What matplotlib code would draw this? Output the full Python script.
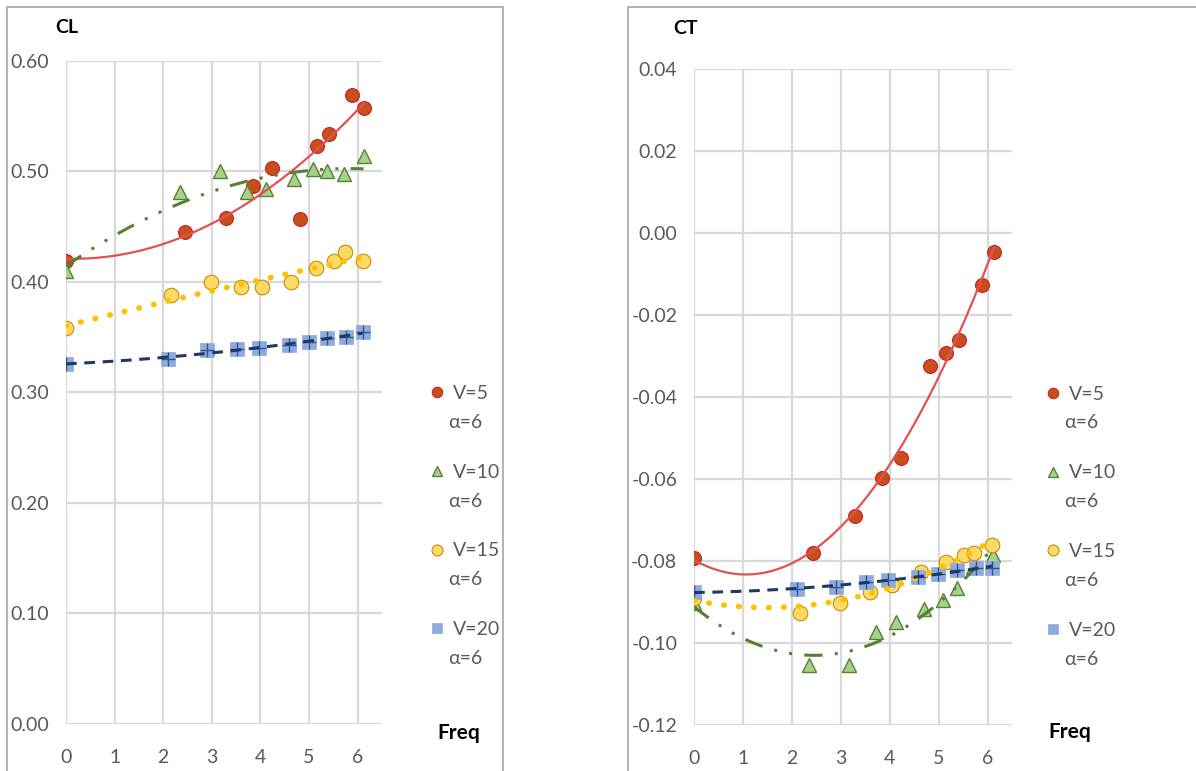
import matplotlib
matplotlib.use("Agg")
import matplotlib.pyplot as plt
import numpy as np
from matplotlib.lines import Line2D

plt.rcParams['font.family'] = ['Lato', 'DejaVu Sans']

# frequencies per series (same in both charts)
freq_v5 = [0, 2.44, 3.29, 3.85, 4.24, 4.82, 5.16, 5.41, 5.88, 6.13]
freq_v10 = [0, 2.34, 3.16, 3.72, 4.12, 4.70, 5.09, 5.37, 5.71, 6.12]
freq_v15 = [0, 2.16, 2.98, 3.60, 4.04, 4.63, 5.15, 5.51, 5.73, 6.10]
freq_v20 = [0, 2.10, 2.91, 3.52, 3.97, 4.58, 4.99, 5.37, 5.76, 6.10]

# lift coefficient
cl_v5 = [0.419, 0.445, 0.458, 0.487, 0.503, 0.457, 0.523, 0.534, 0.569, 0.557]
cl_v10 = [0.410, 0.481, 0.500, 0.481, 0.484, 0.493, 0.502, 0.500, 0.498, 0.514]
cl_v15 = [0.358, 0.388, 0.400, 0.395, 0.395, 0.400, 0.413, 0.419, 0.427, 0.419]
cl_v20 = [0.326, 0.330, 0.338, 0.339, 0.340, 0.343, 0.346, 0.349, 0.350, 0.355]

# thrust coefficient
ct_v5 = [-0.0793, -0.0780, -0.0690, -0.0598, -0.0550, -0.0324, -0.0293, -0.0261, -0.0127, -0.0046]
ct_v10 = [-0.0902, -0.1054, -0.1054, -0.0973, -0.0950, -0.0917, -0.0895, -0.0866, -0.0815, -0.0785]
ct_v15 = [-0.0890, -0.0927, -0.0902, -0.0876, -0.0858, -0.0827, -0.0802, -0.0785, -0.0780, -0.0761]
ct_v20 = [-0.0876, -0.0868, -0.0863, -0.0851, -0.0846, -0.0839, -0.0832, -0.0822, -0.0817, -0.0817]

speed_labels = ['V=5', 'V=10', 'V=15', 'V=20']
alpha_labels = ['α=6', 'α=6', 'α=6', 'α=6']
freqs = [freq_v5, freq_v10, freq_v15, freq_v20]

grey = '#595959'
grid_col = '#d9d9d9'

# marker / trendline styles for V=5, 10, 15, 20
styles = [
    dict(marker='o', mfc='#c5501c', mec='#d02020', ms=10, mew=0.8),
    dict(marker='^', mfc='#a9d18e', mec='#548235', ms=10.5, mew=1.0),
    dict(marker='o', mfc='#ffd966', mec='#bf9000', ms=10.5, mew=0.8),
    dict(marker='s', mfc='#8faadc', mec='#8faadc', ms=10, mew=0.5),
]
trend_styles = [
    dict(color='#e05252', lw=1.6, ls='-'),
    dict(color='#548235', lw=2.2, ls=(0, (6, 4, 1, 4, 1, 4))),
    dict(color='#ffc000', lw=4, ls=(0, (0.1, 2.6)), solid_capstyle='round', dash_capstyle='round'),
    dict(color='#1f3864', lw=2.2, ls=(0, (3.5, 2.5))),
]


def draw_chart(ax, values, yticks, ylim, title, title_pos, freq_pos, leg_anchor):
    ax.set_xlim(0, 6.5)
    ax.set_ylim(*ylim)
    ax.set_xticks(range(7))
    ax.set_yticks(yticks)
    ax.set_yticklabels(['{:.2f}'.format(v) for v in yticks])
    ax.grid(True, color=grid_col, lw=1.6)
    ax.set_axisbelow(True)
    for s in ax.spines.values():
        s.set_visible(False)
    ax.tick_params(length=0, labelsize=14, colors=grey)
    ax.tick_params(axis='y', pad=12)
    ax.tick_params(axis='x', pad=18)

    handles = []
    for i, (x, y) in enumerate(zip(freqs, values)):
        x = np.array(x)
        y = np.array(y)
        coef = np.polyfit(x, y, 2)
        xs = np.linspace(0, x.max(), 200)
        ax.plot(xs, np.polyval(coef, xs), zorder=4, **trend_styles[i])
        h, = ax.plot(x, y, ls='none', zorder=3, **styles[i])
        if i == 3:
            ax.plot(x, y, ls='none', marker='+', color='#2f5597', ms=10, mew=1.0, zorder=3)
        handles.append(h)

    leg = fig.legend(handles, speed_labels, loc='upper left', bbox_to_anchor=leg_anchor,
                     bbox_transform=fig.transFigure, frameon=False, fontsize=14,
                     labelcolor=grey, handlelength=0.6, handletextpad=0.5,
                     labelspacing=3.18, markerscale=0.75, borderpad=0, borderaxespad=0)
    ax.text(title_pos[0], title_pos[1], title, transform=ax.transAxes, fontsize=14,
            fontweight='bold', color='black', ha='left', va='center')
    ax.text(freq_pos[0], freq_pos[1], 'Freq', transform=ax.transAxes, fontsize=15,
            fontweight='bold', color='black', ha='left', va='center')
    return leg


fig = plt.figure(figsize=(11.96, 7.71), dpi=100)

ax1 = fig.add_axes([0.0552, 0.061, 0.2642, 0.860])
leg1 = draw_chart(ax1, [cl_v5, cl_v10, cl_v15, cl_v20], np.arange(0, 0.61, 0.1), (0, 0.6),
                  'CL', (-0.035, 1.05), (1.174, -0.014), (0.3605, 0.501))

ax2 = fig.add_axes([0.5803, 0.0597, 0.2659, 0.8508])
leg2 = draw_chart(ax2, [ct_v5, ct_v10, ct_v15, ct_v20], np.arange(-0.12, 0.041, 0.02),
                  (-0.12, 0.04), 'CT', (-0.066, 1.0625), (1.113, -0.011), (0.8756, 0.500))

# second legend line (angle of attack) under each speed label
fig.canvas.draw()
W, H = fig.bbox.width, fig.bbox.height
for leg in (leg1, leg2):
    for t, a in zip(leg.get_texts(), alpha_labels):
        bb = t.get_window_extent()
        fig.text((bb.x0 - 4) / W, (bb.y0 + bb.y1) / 2 / H - 29 / H, a, fontsize=14,
                 color=grey, ha='left', va='center')

# chart frames
frame = '#a6a6a6'
fig.add_artist(Line2D([0.0059, 0.0059, 0.4206, 0.4206], [0.0, 0.991, 0.991, 0.0],
                      transform=fig.transFigure, color=frame, lw=1.2))
fig.add_artist(Line2D([0.525, 0.525, 1.0], [0.0, 0.991, 0.991],
                      transform=fig.transFigure, color=frame, lw=1.2))

fig.savefig('out.png', dpi=100, facecolor='white')
